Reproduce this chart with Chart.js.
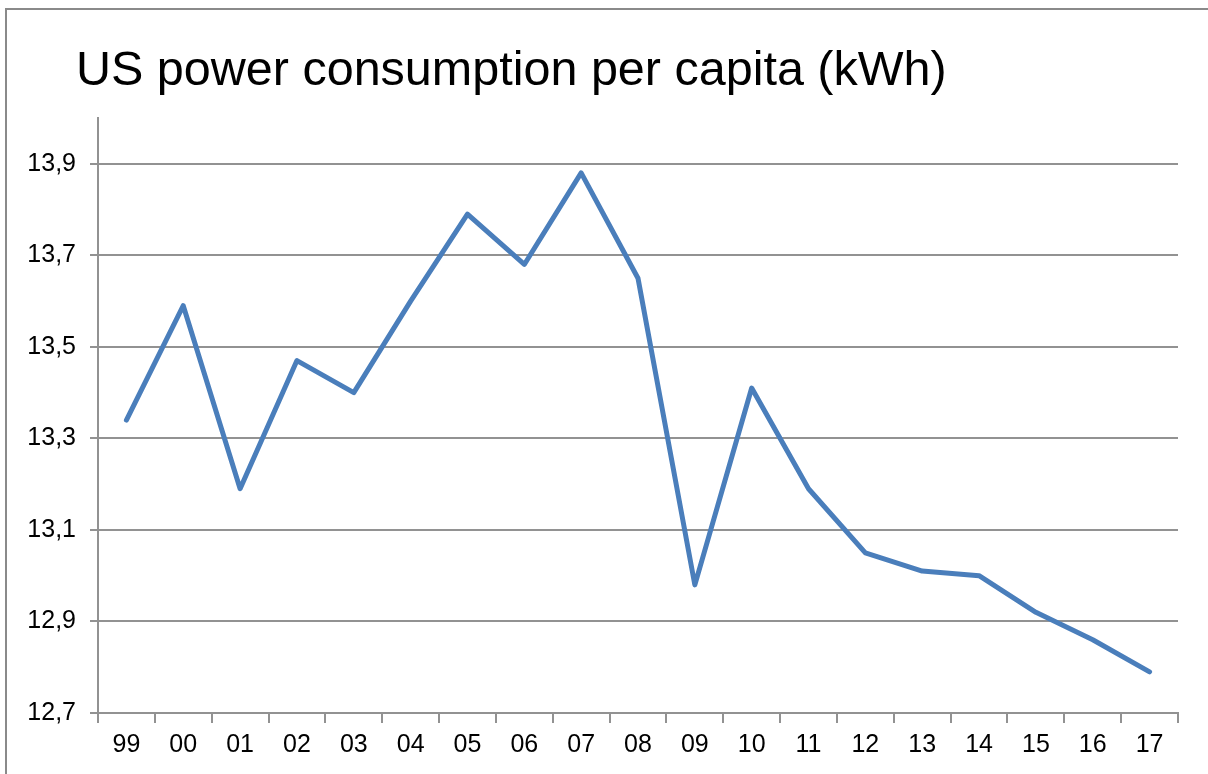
<!DOCTYPE html>
<html>
<head>
<meta charset="utf-8">
<script src="https://cdn.jsdelivr.net/npm/chart.js@4/dist/chart.umd.min.js"></script>
<style>
  html, body { margin: 0; padding: 0; background: #fff; }
  #wrap { position: relative; width: 1208px; height: 774px; overflow: hidden; }
  #frame { position: absolute; left: 5px; top: 8px; width: 1220px; height: 790px;
           border: 2px solid #8a8a8a; box-sizing: border-box; pointer-events: none; }
  #title { position: absolute; left: 76px; top: 40px; margin: 0; font-weight: normal;
           font: 48.5px "Liberation Sans", Arial, sans-serif; color: #000; white-space: nowrap; }
  #chart { position: absolute; left: 0; top: 0; }
</style>
</head>
<body>
<div id="wrap">
  <canvas id="chart" width="1208" height="774"></canvas>
  <div id="frame"></div>
  <h1 id="title">US power consumption per capita (kWh)</h1>
</div>
<script>
const years = ['99', '00', '01', '02', '03', '04', '05', '06', '07', '08',
               '09', '10', '11', '12', '13', '14', '15', '16', '17'];
const consumption = [13.34, 13.59, 13.19, 13.47, 13.40, 13.60, 13.79, 13.68, 13.88, 13.65,
                     12.98, 13.41, 13.19, 13.05, 13.01, 13.00, 12.92, 12.86, 12.79];
const yTicks = [12.7, 12.9, 13.1, 13.3, 13.5, 13.7, 13.9];
const yMin = 12.7, yMax = 14.0;

const axisGrey = '#929292';
const labelFont = { family: '"Liberation Sans", Arial, sans-serif', size: 25 };

new Chart(document.getElementById('chart'), {
    type: 'line',
    data: {
        labels: years,
        datasets: [{
            label: 'kWh',
            data: consumption,
            borderColor: '#4a7ebb',
            borderWidth: 5,
            borderCapStyle: 'round',
            borderJoinStyle: 'round',
            tension: 0,
            pointRadius: 0,
            fill: false
        }]
    },
    options: {
        responsive: false,
        animation: false,
        events: [],
        layout: { padding: { top: 118, left: 0, right: 30, bottom: 20 } },
        plugins: { legend: { display: false }, title: { display: false }, tooltip: { enabled: false } },
        scales: {
            x: {
                offset: true,
                grid: { offset: true, drawOnChartArea: false, drawTicks: true, tickLength: 10, color: axisGrey, lineWidth: 2 },
                border: { color: axisGrey, width: 2 },
                ticks: { color: '#000', font: labelFont, padding: 7, maxRotation: 0, autoSkip: false },
                afterFit: s => { s.height = 774 - 713 - 20; }
            },
            y: {
                min: yMin,
                max: yMax,
                afterBuildTicks: s => { s.ticks = yTicks.map(v => ({ value: v })); },
                afterFit: s => { s.width = 98; },
                grid: { color: axisGrey, lineWidth: 2, tickLength: 8 },
                border: { color: axisGrey, width: 2 },
                ticks: {
                    color: '#000', font: labelFont, padding: 14,
                    callback: v => Number(v).toFixed(1).replace('.', ',')
                }
            }
        }
    }
});
</script>
</body>
</html>
